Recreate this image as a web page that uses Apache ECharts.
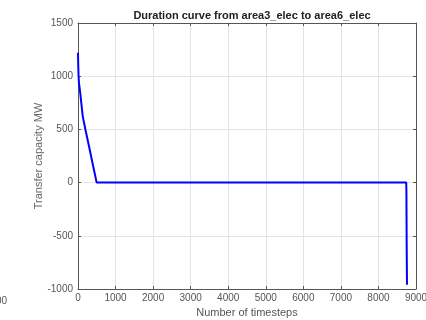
<!DOCTYPE html>
<html><head><meta charset="utf-8">
<script src="https://cdn.jsdelivr.net/npm/echarts@6/dist/echarts.min.js"></script>
<style>html,body{margin:0;padding:0;background:#fff}#c{width:426px;height:320px}</style>
</head><body><div id="c"></div>
<script>
const titleText = 'Duration curve from area3_elec to area6_elec';
const xName = 'Number of timesteps';
const yName = 'Transfer capacity MW';
const timesteps = [0, 5, 15, 25, 60, 125, 200, 300, 400, 497, 8740, 8745, 8752, 8760];
const capacity = [1220, 1120, 1000, 940, 840, 625, 495, 330, 160, 0, 0, -100, -600, -960];

const data = timesteps.map((t, i) => [t, capacity[i]]);
const chart = echarts.init(document.getElementById('c'));
const axisCol = '#555';
const labelCol = '#555';
const fmt = v => String(v);
const baseX = {
  type: 'value', min: 0, max: 9000, interval: 1000,
  axisLine: {show: true, onZero: false, lineStyle: {color: axisCol, width: 1}},
  axisTick: {show: true, inside: true, length: 3, lineStyle: {color: axisCol}},
  splitLine: {show: false}
};
const baseY = {
  type: 'value', min: -1000, max: 1500, interval: 500,
  axisLine: {show: true, onZero: false, lineStyle: {color: axisCol, width: 1}},
  axisTick: {show: true, inside: true, length: 3, lineStyle: {color: axisCol}},
  splitLine: {show: false}
};
chart.setOption({
  animation: false,
  title: {text: titleText, left: 247, top: 5, textAlign: 'center',
    textStyle: {fontFamily: 'Liberation Sans', fontSize: 11, fontWeight: 'bold', color: '#222'}},
  grid: {left: 78, right: 10, top: 23, bottom: 31, outerBoundsMode: 'none', containLabel: false},
  xAxis: [
    Object.assign({}, baseX, {
      position: 'bottom', name: xName, nameLocation: 'middle', nameGap: 18, nameMoveOverlap: false,
      nameTextStyle: {fontFamily: 'Liberation Sans', fontSize: 11, color: '#555'},
      axisLabel: {fontFamily: 'Liberation Sans', fontSize: 10, color: labelCol, margin: 4, formatter: fmt},
      splitLine: {show: true, lineStyle: {color: '#e4e4e4', width: 1}}
    }),
    Object.assign({}, baseX, {position: 'top', axisLabel: {show: false}})
  ],
  yAxis: [
    Object.assign({}, baseY, {
      position: 'left', name: yName, nameLocation: 'middle', nameGap: 34, nameMoveOverlap: false,
      nameTextStyle: {fontFamily: 'Liberation Sans', fontSize: 11, color: '#666'},
      axisLabel: {fontFamily: 'Liberation Sans', fontSize: 10, color: labelCol, margin: 5, formatter: fmt},
      splitLine: {show: true, lineStyle: {color: '#e4e4e4', width: 1}}
    }),
    Object.assign({}, baseY, {position: 'right', axisLabel: {show: false}})
  ],
  graphic: [{type: 'text', left: -4, top: 296,
    style: {text: '00', font: '10px Liberation Sans', fill: '#555'}}],
  series: [{
    type: 'line', data: data, showSymbol: false,
    lineStyle: {color: '#0000ff', width: 2}, itemStyle: {color: '#0000ff'}
  }]
});
</script></body></html>
